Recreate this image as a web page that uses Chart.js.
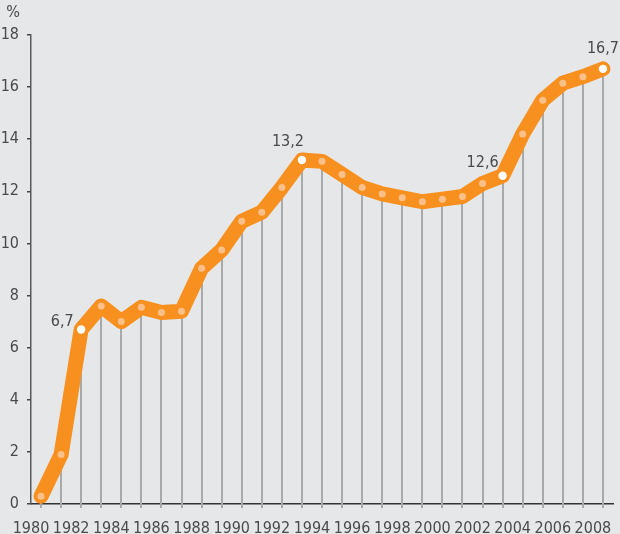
<!DOCTYPE html>
<html>
<head>
<meta charset="utf-8">
<script src="https://cdn.jsdelivr.net/npm/chart.js@4.4.1/dist/chart.umd.min.js"></script>
<style>
    html, body { margin: 0; padding: 0; background: #e6e7e9; }
    #wrap { position: relative; width: 620px; height: 534px; }
</style>
</head>
<body>
<div id="wrap"><canvas id="shareChart" width="620" height="534"></canvas></div>
<script>
const years = [1980, 1981, 1982, 1983, 1984, 1985, 1986, 1987, 1988, 1989, 1990, 1991, 1992, 1993,
    1994, 1995, 1996, 1997, 1998, 1999, 2000, 2001, 2002, 2003, 2004, 2005, 2006, 2007, 2008];
const values = [0.3, 1.9, 6.7, 7.6, 7.0, 7.55, 7.35, 7.4, 9.05, 9.75, 10.85, 11.2, 12.15, 13.2,
    13.15, 12.65, 12.15, 11.9, 11.75, 11.6, 11.7, 11.8, 12.3, 12.6, 14.2, 15.5, 16.15, 16.4, 16.7];
const labelledYears = [1982, 1993, 2003, 2008];
const yTicks = [0, 2, 4, 6, 8, 10, 12, 14, 16, 18];

const FONT = "'Liberation Sans Narrow', 'DejaVu Sans Condensed', 'Roboto Condensed', sans-serif";
const TEXT = '#4a4a4c';

// points sit in the middle of each year, labels at the year boundary
const points = years.map((y, i) => ({ x: y + 0.5, y: values[i] }));

const dropLines = {
    id: 'dropLines',
    beforeDatasetsDraw(chart) {
        const { ctx, scales: { x, y } } = chart;
        ctx.save();
        ctx.strokeStyle = '#a8a9ab';
        ctx.lineWidth = 2;
        points.forEach(p => {
            const px = Math.round(x.getPixelForValue(p.x));
            ctx.beginPath();
            ctx.moveTo(px, y.getPixelForValue(p.y));
            ctx.lineTo(px, y.getPixelForValue(0) + 4);
            ctx.stroke();
        });
        ctx.restore();
    }
};

const valueLabels = {
    id: 'valueLabels',
    afterDatasetsDraw(chart) {
        const { ctx, scales: { x, y } } = chart;
        ctx.save();
        ctx.fillStyle = TEXT;
        ctx.font = '16px ' + FONT;
        ctx.textBaseline = 'alphabetic';
        const offsets = { 1982: [-19, -3], 1993: [-14, -14], 2003: [-20, -9], 2008: [0, -16] };
        labelledYears.forEach(yr => {
            const i = years.indexOf(yr);
            const px = x.getPixelForValue(points[i].x);
            const py = y.getPixelForValue(points[i].y);
            const [dx, dy] = offsets[yr];
            ctx.textAlign = 'center';
            ctx.fillText(String(values[i]).replace('.', ','), px + dx, py + dy);
        });
        // unit label
        ctx.textAlign = 'center';
        ctx.fillText('%', 13, 17);
        ctx.restore();
    }
};

new Chart(document.getElementById('shareChart'), {
    type: 'line',
    data: {
        datasets: [{
            data: points,
            borderColor: '#f7901e',
            borderWidth: 15,
            borderJoinStyle: 'round',
            borderCapStyle: 'round',
            tension: 0,
            clip: false,
            pointRadius: years.map(y => labelledYears.includes(y) ? 4.2 : 3.5),
            pointBorderWidth: 0,
            pointBackgroundColor: years.map(y => labelledYears.includes(y) ? '#ffffff' : '#fbc08a'),
            fill: false
        }]
    },
    options: {
        responsive: false,
        animation: false,
        layout: { padding: { top: 35, right: 7, left: 0, bottom: 0 } },
        plugins: { legend: { display: false }, tooltip: { enabled: false } },
        scales: {
            x: {
                type: 'linear',
                min: 1980,
                max: 2009,
                afterFit(s) { s.height = 30; },
                grid: { display: false },
                border: { display: true, color: '#333335', width: 1.5 },
                ticks: {
                    stepSize: 2,
                    includeBounds: false,
                    padding: 7,
                    color: TEXT,
                    font: { family: FONT, size: 16 },
                    maxRotation: 0,
                    callback: v => String(v)
                }
            },
            y: {
                min: 0,
                max: 18,
                afterFit(s) { s.width = 31; },
                afterBuildTicks(s) { s.ticks = yTicks.map(v => ({ value: v })); },
                grid: { display: true, drawOnChartArea: false, drawTicks: true, tickLength: 4, color: '#444446', lineWidth: 1.5 },
                border: { display: true, color: '#59595b', width: 1.5 },
                ticks: {
                    padding: 8,
                    color: TEXT,
                    font: { family: FONT, size: 16 }
                }
            }
        }
    },
    plugins: [dropLines, valueLabels]
});
</script>
</body>
</html>
